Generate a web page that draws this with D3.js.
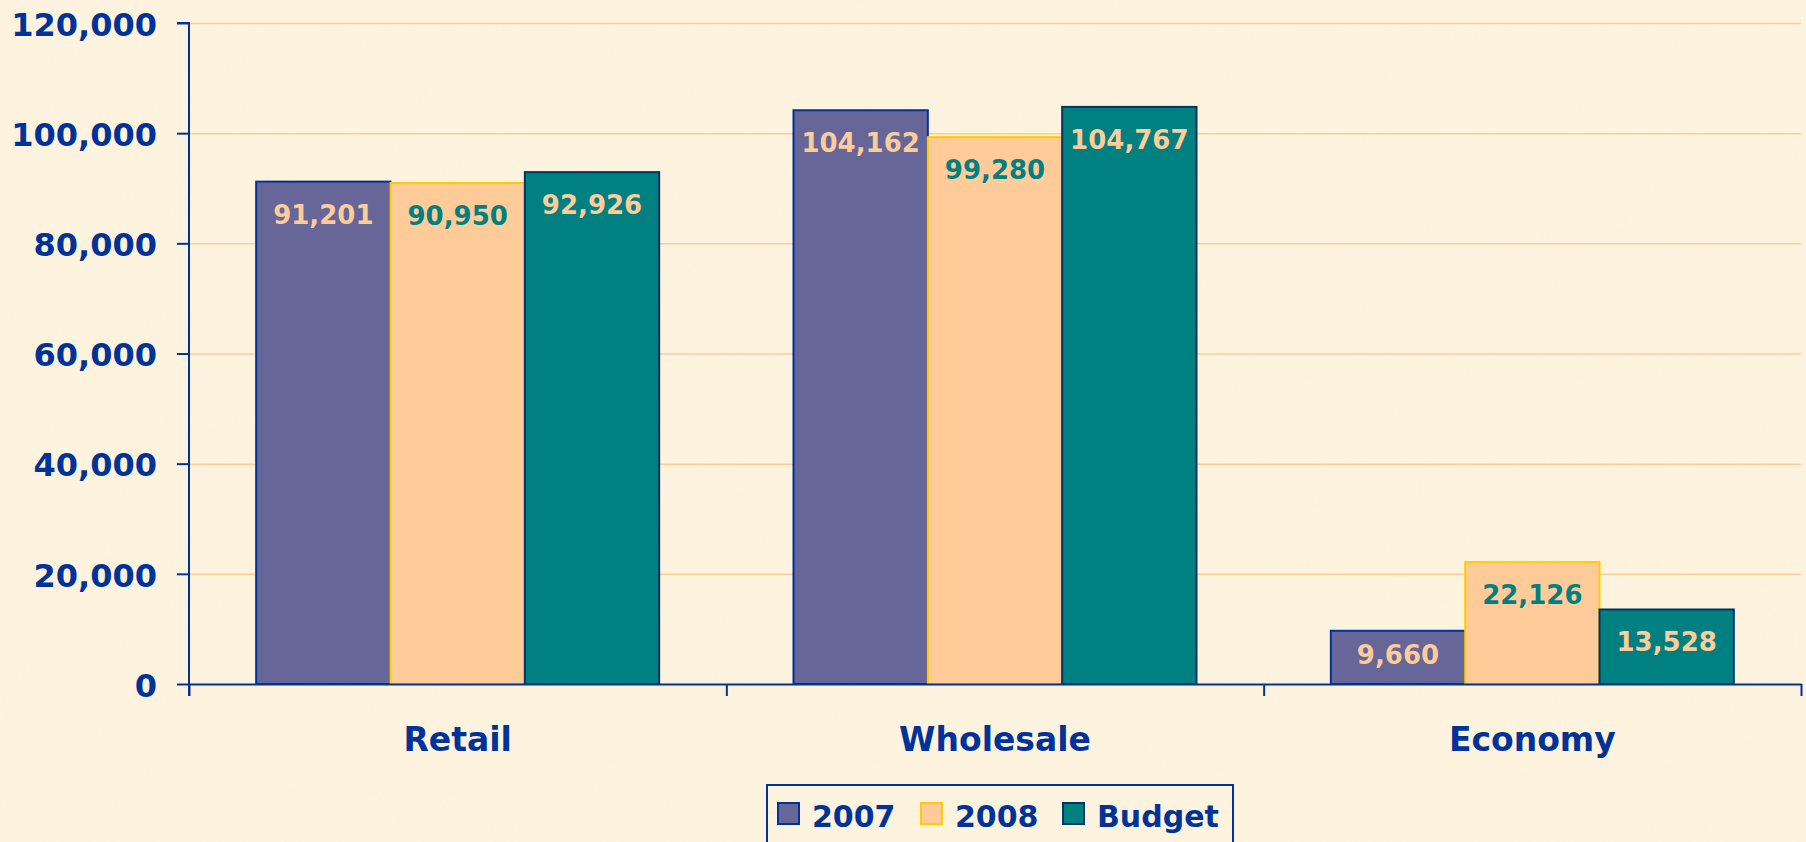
<!DOCTYPE html>
<html>
<head>
<meta charset="utf-8">
<script src="https://cdn.jsdelivr.net/npm/d3@7"></script>
<style>
  html, body { margin: 0; padding: 0; background: #fcf1da; }
  #chart { width: 1806px; height: 842px; }
  text { font-family: "DejaVu Sans", Verdana, sans-serif; font-weight: bold; }
</style>
</head>
<body>
<div id="chart"></div>
<script>
// Chart data
const categories = ['Retail', 'Wholesale', 'Economy'];
const seriesNames = ['2007', '2008', 'Budget'];
const values2007 = [91201, 104162, 9660];
const values2008 = [90950, 99280, 22126];
const valuesBudget = [92926, 104767, 13528];
const yTicks = [0, 20000, 40000, 60000, 80000, 100000, 120000];

function drawChart() {
  const width = 1806;
  const height = 842;
  const plot = { left: 189, right: 1801, top: 23, bottom: 684 };
  const axisColor = '#003399';

  const styles = {
    '2007': { fill: '#666699', stroke: '#003399', label: '#ffcc99' },
    '2008': { fill: '#ffcc99', stroke: '#ffcc00', label: '#008080' },
    'Budget': { fill: '#008080', stroke: '#003366', label: '#ffcc99' }
  };

  const seriesValues = { '2007': values2007, '2008': values2008, 'Budget': valuesBudget };
  const rows = categories.map((c, i) => ({
    category: c,
    items: seriesNames.map(s => ({ series: s, value: seriesValues[s][i] }))
  }));

  const svg = d3.select('#chart')
    .append('svg')
    .attr('width', width)
    .attr('height', height);

  // Parchment-like background with a faint mottled texture
  const defs = svg.append('defs');
  const f = defs.append('filter')
    .attr('id', 'paper')
    .attr('x', 0).attr('y', 0)
    .attr('width', '100%').attr('height', '100%');
  f.append('feTurbulence')
    .attr('type', 'fractalNoise')
    .attr('baseFrequency', 0.025)
    .attr('numOctaves', 3)
    .attr('seed', 7);
  f.append('feColorMatrix')
    .attr('type', 'matrix')
    .attr('values', '0 0 0 0 0.96  0 0 0 0 0.88  0 0 0 0 0.70  0 0 0 0.35 -0.1');

  svg.append('rect')
    .attr('width', width)
    .attr('height', height)
    .attr('fill', '#fdf3de');
  svg.append('rect')
    .attr('width', width)
    .attr('height', height)
    .attr('filter', 'url(#paper)')
    .attr('opacity', 0.6);

  // Scales
  const y = d3.scaleLinear()
    .domain([0, 120000])
    .range([plot.bottom, plot.top]);

  const x0 = d3.scaleBand()
    .domain(categories)
    .range([plot.left, plot.right])
    .padding(0);

  const x1 = d3.scaleBand()
    .domain(seriesNames)
    .range([0, x0.bandwidth()])
    .paddingInner(0)
    .paddingOuter(0.5);

  // Gridlines
  const grid = svg.append('g')
    .attr('transform', `translate(${plot.left},0)`)
    .call(d3.axisLeft(y)
      .tickValues(yTicks.filter(d => d > 0))
      .tickSize(-(plot.right - plot.left))
      .tickFormat(''));
  grid.select('.domain').remove();
  grid.selectAll('line')
    .attr('stroke', '#ffcc99')
    .attr('stroke-width', 1.5);

  // Bars
  const groups = svg.selectAll('.cat')
    .data(rows)
    .enter().append('g')
    .attr('class', 'cat')
    .attr('transform', d => `translate(${x0(d.category)},0)`);

  groups.selectAll('rect')
    .data(d => d.items)
    .enter().append('rect')
    .attr('x', d => x1(d.series))
    .attr('y', d => y(d.value))
    .attr('width', x1.bandwidth())
    .attr('height', d => y(0) - y(d.value))
    .attr('fill', d => styles[d.series].fill)
    .attr('stroke', d => styles[d.series].stroke)
    .attr('stroke-width', 2);

  // Value labels (inside end)
  groups.selectAll('.val')
    .data(d => d.items)
    .enter().append('text')
    .attr('class', 'val')
    .attr('x', d => x1(d.series) + x1.bandwidth() / 2)
    .attr('y', d => Math.min(y(d.value) + 42, y(0) - 20))
    .attr('text-anchor', 'middle')
    .attr('fill', d => styles[d.series].label)
    .style('font-size', '26px')
    .text(d => d3.format(',')(d.value));

  // Y axis
  const yAxis = svg.append('g')
    .attr('transform', `translate(${plot.left},0)`)
    .call(d3.axisLeft(y)
      .tickValues(yTicks)
      .tickSize(12)
      .tickPadding(20)
      .tickFormat(d3.format(',')));
  yAxis.select('.domain')
    .attr('stroke', axisColor)
    .attr('stroke-width', 2)
    .attr('d', `M-12,${plot.top}H0V${plot.bottom + 12}`);
  yAxis.selectAll('line')
    .attr('stroke', axisColor)
    .attr('stroke-width', 2);
  yAxis.selectAll('text')
    .attr('fill', axisColor)
    .attr('dy', '0.38em')
    .style('font-size', '32px')
    .style('font-family', '"DejaVu Sans", Verdana, sans-serif')
    .style('font-weight', 'bold');

  // X axis (ticks at category boundaries)
  const xb = d3.scaleLinear()
    .domain([0, categories.length])
    .range([plot.left, plot.right]);
  const xAxis = svg.append('g')
    .attr('transform', `translate(0,${plot.bottom})`)
    .call(d3.axisBottom(xb)
      .tickValues(d3.range(categories.length + 1))
      .tickSize(12)
      .tickSizeOuter(0)
      .tickFormat(''));
  xAxis.select('.domain')
    .attr('stroke', axisColor)
    .attr('stroke-width', 2);
  xAxis.selectAll('line')
    .attr('stroke', axisColor)
    .attr('stroke-width', 2);

  // Category labels
  svg.selectAll('.catlabel')
    .data(categories)
    .enter().append('text')
    .attr('class', 'catlabel')
    .attr('x', d => x0(d) + x0.bandwidth() / 2)
    .attr('y', 751)
    .attr('text-anchor', 'middle')
    .attr('fill', axisColor)
    .style('font-size', '33px')
    .text(d => d);

  // Legend
  const legend = svg.append('g');
  legend.append('rect')
    .attr('x', 767)
    .attr('y', 785)
    .attr('width', 466)
    .attr('height', 80)
    .attr('fill', '#fdf3de')
    .attr('stroke', axisColor)
    .attr('stroke-width', 2);

  const legendX = [778, 921, 1063];
  seriesNames.forEach((s, i) => {
    const item = legend.append('g')
      .attr('transform', `translate(${legendX[i]},803)`);
    item.append('rect')
      .attr('width', 21)
      .attr('height', 21)
      .attr('fill', styles[s].fill)
      .attr('stroke', styles[s].stroke)
      .attr('stroke-width', 2);
    item.append('text')
      .attr('x', 34)
      .attr('y', 24)
      .attr('fill', axisColor)
      .style('font-size', '30px')
      .text(s);
  });
}

if (document.readyState === 'loading') {
  document.addEventListener('DOMContentLoaded', drawChart);
} else {
  drawChart();
}
</script>
</body>
</html>
